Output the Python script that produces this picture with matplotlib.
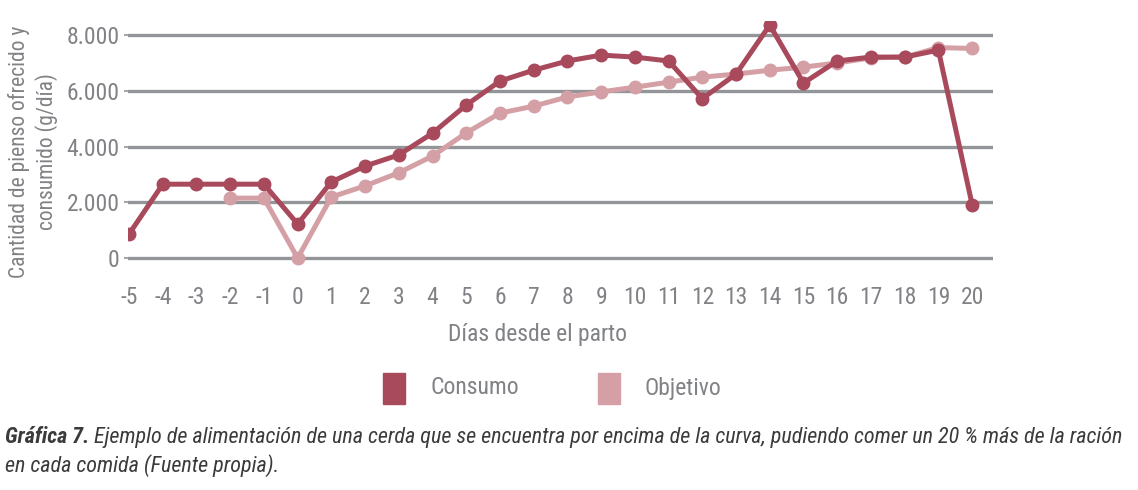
import matplotlib
matplotlib.use("Agg")
import matplotlib.pyplot as plt
from matplotlib.patches import Rectangle

# Datos
dias = list(range(-5, 21))
consumo = [860, 2650, 2650, 2650, 2650, 1220, 2730, 3300, 3700, 4480, 5490,
           6350, 6740, 7070, 7280, 7210, 7070, 5720, 6600, 8360, 6280, 7070,
           7210, 7210, 7460, 1920]
dias_obj = list(range(-2, 21))
objetivo = [2150, 2150, 0, 2190, 2590, 3060, 3660, 4490, 5200, 5450, 5780,
            5960, 6130, 6310, 6490, 6600, 6740, 6850, 7000, 7180, 7210, 7550,
            7520]
yticks = [0, 2000, 4000, 6000, 8000]
ytick_labels = ["0", "2.000", "4.000", "6.000", "8.000"]

plt.rcParams["font.family"] = ["Roboto Condensed", "DejaVu Sans"]

c_consumo = "#a8495c"
c_objetivo = "#d4a0a5"
c_grid = "#939598"
c_text = "#808286"
c_caption = "#3b3b3b"

W, H = 1138, 490
fig = plt.figure(figsize=(W / 100, H / 100), dpi=100)
ax = fig.add_axes([0.1125, 0.4563, 0.7601, 0.5006])
ax.set_xlim(-5.03, 20.62)
ax.set_ylim(-300, 8500)

for v in yticks:
    ax.axhline(v, color=c_grid, lw=2.4, zorder=1)

ax.plot(dias_obj, objetivo, color=c_objetivo, lw=3.6, marker="o", ms=9,
        zorder=2, solid_joinstyle="round")
ax.plot(dias, consumo, color=c_consumo, lw=3.6, marker="o", ms=9,
        zorder=3, solid_joinstyle="round")

for s in ax.spines.values():
    s.set_visible(False)
ax.set_yticks(yticks)
ax.set_yticklabels(ytick_labels)
ax.set_xticks(dias)
ax.set_xticklabels([str(d) for d in dias])
ax.tick_params(axis="y", length=3, width=1.2, color=c_grid, labelsize=17,
               labelcolor=c_text, pad=3)
ax.tick_params(axis="x", length=0, labelsize=17, labelcolor=c_text, pad=14)

fig.text(33 / W, 1 - 152 / H, "Cantidad de pienso ofrecido y\nconsumido (g/día)",
         rotation=90, ha="center", va="center", fontsize=15.5, color=c_text,
         linespacing=1.3)
fig.text(538 / W, 1 - 335 / H, "Días desde el parto", ha="center", va="center",
         fontsize=17, color=c_text)

# leyenda
for x0, col, lab in [(383, c_consumo, "Consumo"), (598, c_objetivo, "Objetivo")]:
    fig.patches.append(Rectangle((x0 / W, 1 - 404 / H), 22 / W, 31 / H,
                                 transform=fig.transFigure, color=col))
    fig.text((x0 + 47) / W, 1 - 388 / H, lab, ha="left", va="center",
             fontsize=17, color=c_text)

# pie de figura (ajustado al ancho de la primera línea)
fs = 17
parte1 = "Gráfica 7."
parte2 = ("Ejemplo de alimentación de una cerda que se encuentra por encima de la curva, "
          "pudiendo comer un 20 % más de la ración")
t1 = fig.text(5 / W, 1 - 437 / H, parte1, ha="left", va="center", fontsize=fs,
              fontweight="bold", style="italic", color=c_caption)
t2 = fig.text(0, 1 - 437 / H, parte2, ha="left", va="center", fontsize=fs,
              style="italic", color=c_caption)
t3 = fig.text(5 / W, 1 - 466 / H, "en cada comida (Fuente propia).", ha="left",
              va="center", fontsize=fs, style="italic", color=c_caption)
fig.canvas.draw()
total = t1.get_window_extent().width + 5 + t2.get_window_extent().width
fs = fs * (1131 - 5) / total
for t in (t1, t2, t3):
    t.set_fontsize(fs)
fig.canvas.draw()
t2.set_x((t1.get_window_extent().x1 + 5) / W)

fig.savefig("out.png", dpi=100)
